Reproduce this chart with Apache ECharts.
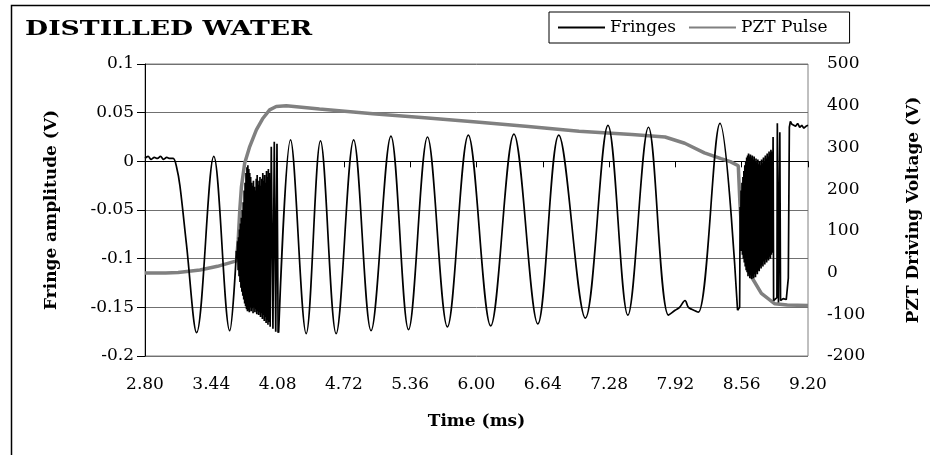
<!DOCTYPE html>
<html>
<head>
<meta charset="utf-8">
<script src="https://cdn.jsdelivr.net/npm/echarts@6/dist/echarts.min.js"></script>
<style>
html,body{margin:0;padding:0;background:#fff;}
#chart{width:930px;height:455px;}
</style>
</head>
<body>
<div id="chart"></div>
<script>
// ---- data (time in ms, fringe amplitude in V, PZT voltage in V) ----
const chartTitle = 'DISTILLED WATER';
const xTitle = 'Time (ms)';
const yLeftTitle = 'Fringe amplitude (V)';
const yRightTitle = 'PZT Driving Voltage (V)';

// Fringes: flat lead-in and first two fringes
const fringeLeadIn = [
  [2.800,0.003],[2.830,0.005],[2.860,0.002],[2.890,0.004],[2.920,0.003],[2.950,0.005],
  [2.980,0.002],[3.010,0.004],[3.040,0.003],[3.072,0.003],[3.105,-0.006],[3.137,-0.025],
  [3.200,-0.085],[3.298,-0.176],[3.464,0.005],[3.618,-0.174],[3.683,-0.092]
];
// Fringes: fast burst while the PZT pulse rises
const fringeBurstA = [
  [3.683,-0.092],[3.690,-0.100],[3.694,-0.082],[3.699,-0.112],[3.703,-0.078],[3.708,-0.118],
  [3.712,-0.070],[3.717,-0.124],[3.721,-0.064],[3.726,-0.130],[3.730,-0.058],[3.735,-0.134],
  [3.739,-0.050],[3.744,-0.138],[3.748,-0.042],[3.753,-0.142],[3.757,-0.030],[3.762,-0.146],
  [3.766,-0.022],[3.771,-0.149],[3.775,-0.012],[3.780,-0.152],[3.784,-0.006],[3.789,-0.154],
  [3.793,-0.004],[3.798,-0.153],[3.802,-0.008],[3.807,-0.155],[3.811,-0.012],[3.816,-0.150],
  [3.820,-0.016],[3.825,-0.154],[3.829,-0.022],[3.834,-0.151],[3.838,-0.025],[3.843,-0.156],
  [3.847,-0.020],[3.852,-0.150],[3.856,-0.026],[3.861,-0.155],[3.865,-0.030],[3.870,-0.152],
  [3.874,-0.018],[3.879,-0.157],[3.883,-0.014],[3.888,-0.154],[3.892,-0.024],[3.897,-0.158],
  [3.901,-0.020],[3.906,-0.155],[3.910,-0.016],[3.915,-0.160],[3.919,-0.025],[3.924,-0.156],
  [3.928,-0.018],[3.933,-0.162],[3.937,-0.012],[3.942,-0.158],[3.946,-0.020],[3.951,-0.164],
  [3.955,-0.014],[3.960,-0.160],[3.964,-0.022],[3.969,-0.166],[3.973,-0.010],[3.978,-0.163],
  [3.982,-0.016],[3.987,-0.168],[3.991,-0.008],[3.996,-0.165],[4.000,-0.012],[4.008,-0.170],
  [4.019,0.015],[4.035,-0.172],[4.048,0.020],[4.062,-0.175],[4.074,0.018],[4.085,-0.176],
  [4.090,-0.176]
];
// Fringes: regular fringes during the PZT plateau
const fringeCycles = [
  [4.090,-0.176],[4.205,0.022],[4.356,-0.177],[4.494,0.021],[4.645,-0.177],[4.814,0.022],
  [4.982,-0.174],[5.174,0.026],[5.344,-0.173],[5.527,0.025],[5.719,-0.170],[5.921,0.027],
  [6.137,-0.169],[6.361,0.028],[6.592,-0.167],[6.794,0.027],[7.051,-0.161],[7.269,0.037],
  [7.461,-0.158],[7.660,0.035],[7.853,-0.158],[7.917,-0.153],[7.960,-0.150],[8.013,-0.143],
  [8.045,-0.150],[8.077,-0.152],[8.141,-0.155],[8.350,0.039],[8.520,-0.153]
];
// Fringes: fast burst while the PZT pulse falls, then the tail
const fringeBurstB = [
  [8.520,-0.153],[8.540,-0.150],[8.545,-0.047],[8.549,-0.088],[8.554,-0.030],[8.558,-0.092],
  [8.563,-0.022],[8.567,-0.096],[8.572,-0.016],[8.576,-0.100],[8.581,-0.010],[8.585,-0.104],
  [8.590,-0.004],[8.594,-0.108],[8.599,0.000],[8.603,-0.112],[8.608,0.004],[8.612,-0.114],
  [8.617,0.006],[8.621,-0.118],[8.626,0.008],[8.630,-0.116],[8.635,0.005],[8.639,-0.120],
  [8.644,0.007],[8.648,-0.117],[8.653,0.004],[8.657,-0.121],[8.662,0.006],[8.666,-0.118],
  [8.671,0.002],[8.675,-0.120],[8.680,0.005],[8.684,-0.116],[8.689,0.000],[8.693,-0.119],
  [8.698,0.003],[8.702,-0.114],[8.707,-0.001],[8.711,-0.116],[8.716,0.002],[8.720,-0.112],
  [8.725,-0.003],[8.729,-0.113],[8.734,0.000],[8.738,-0.108],[8.743,-0.004],[8.747,-0.110],
  [8.752,0.002],[8.756,-0.106],[8.761,-0.002],[8.765,-0.108],[8.770,0.004],[8.774,-0.103],
  [8.779,0.000],[8.783,-0.106],[8.788,0.006],[8.792,-0.101],[8.797,0.003],[8.801,-0.104],
  [8.806,0.008],[8.810,-0.100],[8.815,0.005],[8.819,-0.102],[8.824,0.010],[8.828,-0.098],
  [8.833,0.008],[8.837,-0.100],[8.842,0.012],[8.846,-0.096],[8.851,0.010],[8.855,-0.094],
  [8.863,0.025],[8.868,-0.143],[8.900,-0.140],[8.904,0.039],[8.915,-0.145],[8.928,0.030],
  [8.935,-0.143],[8.960,-0.141],[8.990,-0.142],[9.010,-0.120],[9.020,0.035],[9.030,0.041],
  [9.045,0.038],[9.060,0.040],[9.080,0.036],[9.100,0.039],[9.120,0.035],[9.140,0.037],
  [9.160,0.034],[9.180,0.036],[9.200,0.037]
];
// PZT driving voltage
const pztPulse = [
  [2.800,-1],[3.000,-1],[3.120,0],[3.330,6],[3.500,15],[3.683,28],[3.700,80],[3.715,150],
  [3.731,206],[3.762,262],[3.811,302],[3.875,342],[3.939,370],[4.003,390],[4.067,398],
  [4.164,400],[4.484,392],[5.000,381],[5.500,371],[6.000,361],[6.500,350],[6.990,339],
  [7.500,331],[7.820,325],[8.010,310],[8.200,287],[8.360,273],[8.450,266],[8.527,256],
  [8.543,166],[8.558,102],[8.590,38],[8.654,-10],[8.750,-50],[8.880,-75],[9.000,-78],[9.200,-79]
];
// axes
const xMin = 2.8, xMax = 9.2, xStep = 0.64;
const yLeftMin = -0.2, yLeftMax = 0.1, yLeftStep = 0.05;
const yRightMin = -200, yRightMax = 500, yRightStep = 100;

const FONT = 'DejaVu Serif';
const chart = echarts.init(document.getElementById('chart'), null, {renderer:'canvas'});
const fringeLine = {color:'#000', width:1.7};
const burstLine = {color:'#000', width:1.7};
chart.setOption({
  animation:false,
  backgroundColor:'#fff',
  graphic:[
    {type:'rect', silent:true, z:-10, shape:{x:11.5, y:5.5, width:940, height:470},
     style:{fill:'none', stroke:'#000', lineWidth:1.5}},
    {type:'text', x:25, y:30, scaleX:1.27, scaleY:1,
     style:{text:chartTitle, font:'bold 21px "DejaVu Serif"', fill:'#000', verticalAlign:'middle', align:'left'}}
  ],
  legend:{
    left:549, top:12, orient:'horizontal',
    padding:[7,22,7,9], itemGap:13, itemWidth:47, itemHeight:2,
    borderColor:'#000', borderWidth:1,
    textStyle:{fontFamily:FONT, fontSize:17, color:'#000'},
    data:[{name:'Fringes', icon:'rect'},{name:'PZT Pulse', icon:'rect'}]
  },
  grid:{left:145, right:120, top:64, bottom:99, show:true, borderColor:'#808080', borderWidth:1, backgroundColor:'transparent'},
  xAxis:{
    type:'value', min:xMin, max:xMax, interval:xStep,
    axisLine:{show:true, lineStyle:{color:'#000', width:1}},
    axisTick:{show:true, inside:false, length:6, lineStyle:{color:'#000'}},
    axisLabel:{margin:20, fontFamily:FONT, fontSize:17, color:'#000', formatter:v=>v.toFixed(2)},
    splitLine:{show:false},
    name:xTitle, nameLocation:'middle', nameGap:57,
    nameTextStyle:{fontFamily:FONT, fontSize:17, fontWeight:'bold', color:'#000'}
  },
  yAxis:[{
    type:'value', position:'left', min:yLeftMin, max:yLeftMax, interval:yLeftStep,
    axisLine:{show:true, lineStyle:{color:'#000', width:1}},
    axisTick:{show:true, inside:false, length:8, lineStyle:{color:'#000'}},
    axisLabel:{margin:11, fontFamily:FONT, fontSize:17, color:'#000'},
    splitLine:{show:true, lineStyle:{color:'#707070', width:1}},
    name:yLeftTitle, nameLocation:'middle', nameRotate:90, nameGap:85,
    nameTextStyle:{fontFamily:FONT, fontSize:17, fontWeight:'bold', color:'#000'}
  },{
    type:'value', position:'right', min:yRightMin, max:yRightMax, interval:yRightStep,
    axisLine:{show:false}, axisTick:{show:false},
    axisLabel:{margin:19, fontFamily:FONT, fontSize:17, color:'#000'},
    splitLine:{show:false},
    name:yRightTitle, nameLocation:'middle', nameRotate:90, nameGap:97,
    nameTextStyle:{fontFamily:FONT, fontSize:17, fontWeight:'bold', color:'#000'}
  }],
  series:[
    {name:'PZT Pulse', type:'line', yAxisIndex:1, data:pztPulse, symbol:'none', z:2,
     lineStyle:{color:'#808080', width:3.5}, itemStyle:{color:'#808080'}},
    {name:'Fringes', type:'line', yAxisIndex:0, data:fringeLeadIn, symbol:'none', smooth:0.35, z:3,
     lineStyle:fringeLine, itemStyle:{color:'#000'}},
    {name:'Fringes', type:'line', yAxisIndex:0, data:fringeBurstA, symbol:'none', z:3,
     lineStyle:burstLine, itemStyle:{color:'#000'}},
    {name:'Fringes', type:'line', yAxisIndex:0, data:fringeCycles, symbol:'none', smooth:0.35, z:3,
     lineStyle:fringeLine, itemStyle:{color:'#000'}},
    {name:'Fringes', type:'line', yAxisIndex:0, data:fringeBurstB, symbol:'none', z:3,
     lineStyle:burstLine, itemStyle:{color:'#000'}}
  ]
});
</script>
</body>
</html>
